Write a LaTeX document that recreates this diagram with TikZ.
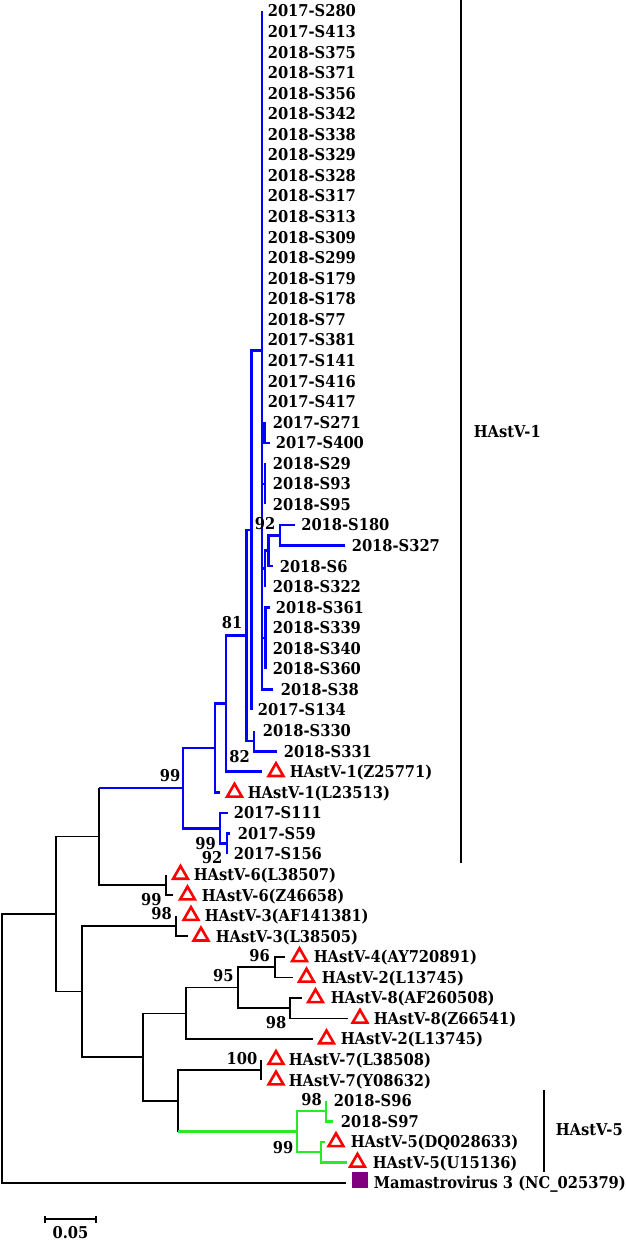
\documentclass[tikz,border=0pt]{standalone}
\usepackage{fontspec}
\setmainfont{DejaVu Serif}[FakeStretch=0.9]
\usetikzlibrary{shapes.geometric,arrows.meta}
\definecolor{treeblue}{RGB}{0,0,255}
\definecolor{treegreen}{RGB}{40,235,40}
\definecolor{refpurple}{RGB}{128,0,128}
\begin{document}
\begin{tikzpicture}[x=1bp, y=-1bp,
  font=\fontsize{16.3bp}{19bp}\selectfont\bfseries,
  leaf/.style={anchor=west, inner sep=0pt, text height=11.9bp, text depth=0pt},
  bs/.style={inner sep=0pt, text height=11.9bp, text depth=0pt},
  tri/.style={regular polygon, regular polygon sides=3, draw=red, line width=2.6bp, inner sep=0pt, minimum size=17bp},
  br/.style={line width=2.5bp},
  hast1/.style={treeblue, line width=2.6bp},
  hast5/.style={treegreen, line width=2.6bp},
  line width=1.6bp]
  \useasboundingbox (0,0) rectangle (626,1240);

  % leaves
  \foreach \lab [count=\i] in {2017-S280,2017-S413,2018-S375,2018-S371,2018-S356,2018-S342,2018-S338,2018-S329,2018-S328,2018-S317,2018-S313,2018-S309,2018-S299,2018-S179,2018-S178,2018-S77,2017-S381,2017-S141,2017-S416,2017-S417}{
    \coordinate (a\i) at (262,{11+20.56*(\i-1)});
    \node[leaf] (t\i) at (267,{11+20.56*(\i-1)}) {\lab};
  }
  \foreach \i/\x/\y/\tx/\lab in {21/264.5/422.2/272/2017-S271, 22/270/442.8/275/2017-S400,
      23/265/463.3/272/2018-S29, 24/265/483.9/272/2018-S93, 25/265/504.4/272/2018-S95,
      26/295/525.0/300.5/2018-S180, 27/345/545.6/351/2018-S327, 28/273/566.1/279/2018-S6,
      29/265/586.7/272/2018-S322, 30/270/607.2/275/2018-S361, 31/265.5/627.8/272/2018-S339,
      32/265.5/648.4/272/2018-S340, 33/265.5/668.9/272/2018-S360, 34/273/689.5/280/2018-S38,
      35/251.7/710.0/257/2017-S134, 36/254/730.6/262/2018-S330, 37/277/751.2/283/2018-S331,
      38/262/771.7/289/HAstV-1(Z25771), 39/220/792.3/247/HAstV-1(L23513),
      40/228/812.8/233/2017-S111, 41/230/833.4/237/2017-S59, 42/227/854.0/233/2017-S156,
      43/166/874.5/193/HAstV-6(L38507), 44/173/895.1/201/HAstV-6(Z46658),
      45/176/915.6/204/HAstV-3(AF141381), 46/188/936.2/215/HAstV-3(L38505),
      47/285/956.8/313/HAstV-4(AY720891), 48/293/977.3/321/HAstV-2(L13745),
      49/302/997.9/330/HAstV-8(AF260508), 50/348/1018.4/373/HAstV-8(Z66541),
      51/313/1039.0/340/HAstV-2(L13745), 52/261/1059.6/288/HAstV-7(L38508),
      53/261/1080.1/288/HAstV-7(Y08632), 54/326/1100.7/333/2018-S96, 55/333/1121.2/340/2018-S97,
      56/325/1141.8/350/HAstV-5(DQ028633), 57/347/1162.4/372/HAstV-5(U15136),
      58/346/1182.9/373/Mamastrovirus 3 (NC\_025379)}{
    \coordinate (a\i) at (\x,\y);
    \node[leaf] (t\i) at (\tx,\y) {\lab};
  }
  \foreach \i/\cx in {38/276, 39/234.5, 43/180.5, 44/187.5, 45/191, 46/201, 47/299.5, 48/306.5,
      49/315.5, 50/360, 51/326.5, 52/276, 53/276, 56/336, 57/357.5}
    \node[tri] (m\i) at (\cx,0 |- a\i) {};
  \node[fill=refpurple, inner sep=0pt, minimum size=16bp] (m58) at (360,1180) {};

  % inner nodes
  \coordinate (P) at (262,350.25);
  \coordinate (Q1) at (264.5,432.5);
  \coordinate (Q2) at (265,483.9);
  \coordinate (N1) at (280,535.3);
  \coordinate (N2) at (268.5,550.7);
  \coordinate (Q3) at (265,568.7);
  \coordinate (Q4) at (265.5,638.1);
  \coordinate (B) at (251.7,530.1);
  \coordinate (C) at (254,740.9);
  \coordinate (D) at (246.7,635.5);
  \coordinate (E) at (226,703.6);
  \coordinate (F) at (215,748.0);
  \coordinate (G) at (227,843.7);
  \coordinate (H) at (220,828.3);
  \coordinate (I) at (183,788.1);
  \coordinate (J) at (166,884.8);
  \coordinate (K) at (99,836.5);
  \coordinate (L) at (176,925.9);
  \coordinate (M) at (275,967.0);
  \coordinate (N) at (290,1008.2);
  \coordinate (O) at (238,987.6);
  \coordinate (R) at (186,1013.3);
  \coordinate (S) at (261,1069.9);
  \coordinate (T) at (326,1111.0);
  \coordinate (U) at (321,1152.1);
  \coordinate (V) at (297,1131.5);
  \coordinate (W) at (178,1100.7);
  \coordinate (X) at (143,1057.0);
  \coordinate (Y) at (82,991.5);
  \coordinate (Z) at (56,914.0);
  \coordinate (root) at (2,1048.5);

  % branches
  \foreach \p/\c in {P/Q1, P/Q2, P/Q3, P/Q4, P/a34, Q1/a22, N1/a26, N1/a27, N2/N1, N2/a28, Q3/N2,
      Q4/a30, B/P, C/a37, D/B, D/C, E/D, E/a38, F/E, F/a39, G/a41, H/a40, H/G, I/F, I/H}
    \draw[hast1] (\p) |- (\c);
  \foreach \p/\c in {P/a1, Q1/a21, Q2/a23, Q2/a25, Q3/a29, Q4/a33, B/a35, C/a36, G/a42}
    \draw[hast1] (\p) -- (\c);
  \foreach \p/\c in {K/J, J/a44, L/a46, M/a47, M/a48, N/a49, N/a50, O/M, O/N, R/O, R/a51,
      X/R, X/W, Y/L, Y/X, Z/K, Z/Y, root/Z, root/a58, W/S}
    \draw (\p) |- (\c);
  \foreach \p/\c in {J/a43, L/a45, S/a52, S/a53}
    \draw (\p) -- (\c);
  \foreach \p/\c in {V/T, V/U, T/a55, U/a56, U/a57}
    \draw[hast5] (\p) |- (\c);
  \draw[hast5] (T) -- (a54);
  \draw (K) -- (K |- I);
  \draw[hast1] (K |- I) -- (I);
  \draw (W) -- (W |- V);
  \draw[hast5] (W |- V) -- (V);

  % bootstrap values
  \foreach \x/\y/\v in {265/523.5/92, 232/623/81, 239.5/756.7/82, 170/775.5/99, 205.5/843.3/99,
      212/857.5/92, 151.3/899.3/99, 161.7/914/98, 259.7/955.5/96, 223.3/975.5/95, 276/1023/98,
      242/1058.3/100, 311.7/1099.2/98, 283/1147.5/99}
    \node[bs] at (\x,\y) {\v};

  % clades
  \coordinate (h1top) at (461,0);
  \coordinate (h1bot) at (461,863);
  \draw[br] (h1top) -- (h1bot);
  \node[leaf] (h1) at (473,432) {HAstV-1};
  \coordinate (h5top) at (544,1090);
  \coordinate (h5bot) at (544,1172);
  \draw[br] (h5top) -- (h5bot);
  \node[leaf] (h5) at (555,1130) {HAstV-5};

  % scale
  \coordinate (sbl) at (44,1219);
  \coordinate (sbr) at (97,1219);
  \draw[{Bar[width=7bp]}-{Bar[width=7bp]}] (sbl) -- (sbr);
  \node[bs] (sblab) at (70.5,1232.5) {0.05};
\end{tikzpicture}
\end{document}
